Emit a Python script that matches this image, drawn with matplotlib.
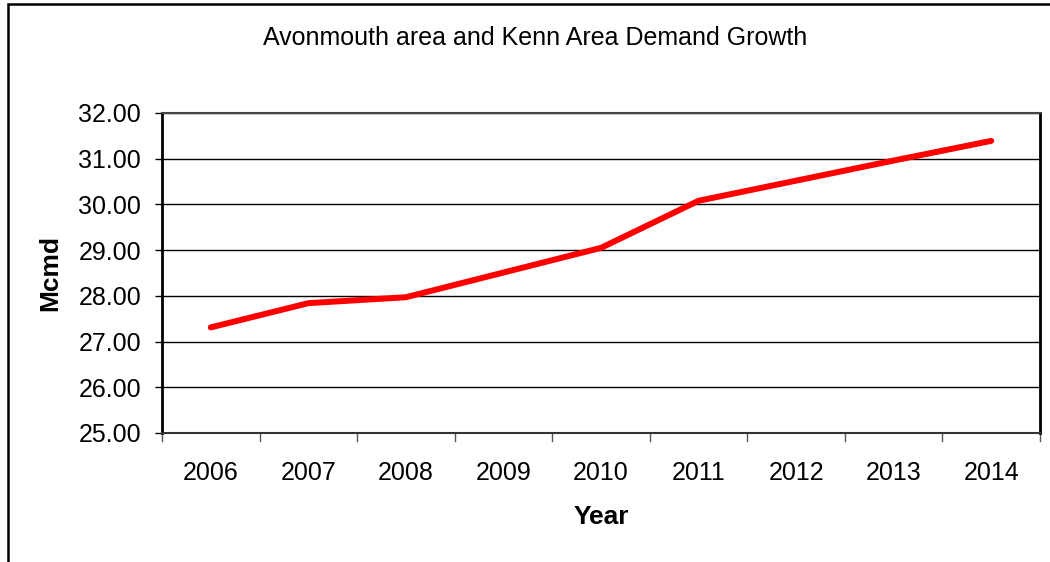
import matplotlib.pyplot as plt
from matplotlib.patches import Rectangle

plt.rcParams['font.family'] = ['Liberation Sans', 'DejaVu Sans']

years = ['2006', '2007', '2008', '2009', '2010', '2011', '2012', '2013', '2014']
demand = [27.31, 27.84, 27.97, 28.51, 29.05, 30.08, 30.52, 30.96, 31.39]
y_ticks = [25, 26, 27, 28, 29, 30, 31, 32]

fig = plt.figure(figsize=(10.5, 5.62), dpi=100)

# chart border (runs off the right and bottom edges)
fig.patches.append(Rectangle((8 / 1050, -0.1), 1.2, 1.1 - 4 / 562,
                             transform=fig.transFigure, fill=False,
                             edgecolor='black', linewidth=1.8))

ax = fig.add_axes([162 / 1050, 1 - 433 / 562, 878 / 1050, 320 / 562])

x = range(len(years))
ax.plot(x, demand, color='#ff0000', linewidth=4.3,
        solid_capstyle='round', solid_joinstyle='round', zorder=3)

ax.set_xlim(-0.5, len(years) - 0.5)
ax.set_ylim(25, 32)
ax.set_yticks(y_ticks)
ax.set_yticklabels([f'{v:.2f}' for v in y_ticks], fontsize=18)
ax.set_xticks(list(x))
ax.set_xticklabels(years, fontsize=18)
ax.tick_params(axis='x', length=0, pad=20)
ax.tick_params(axis='y', length=5, width=1, direction='out', pad=10)

# category boundary ticks on the x axis
for b in [i - 0.5 for i in range(len(years) + 1)]:
    ax.plot([b, b], [0, -0.025], transform=ax.get_xaxis_transform(),
            color='#555555', linewidth=1.0, clip_on=False)

ax.yaxis.grid(True, color='black', linewidth=1.0)
ax.set_axisbelow(True)

ax.spines['left'].set_linewidth(2.0)
ax.spines['left'].set_color('black')
ax.spines['right'].set_linewidth(2.0)
ax.spines['right'].set_color('black')
ax.spines['top'].set_linewidth(1.5)
ax.spines['top'].set_color('#444444')
ax.spines['bottom'].set_linewidth(1.5)
ax.spines['bottom'].set_color('#333333')

fig.text(535 / 1050, 1 - 38 / 562, 'Avonmouth area and Kenn Area Demand Growth',
         ha='center', va='center', fontsize=18)
fig.text(601 / 1050, 1 - 517 / 562, 'Year', ha='center', va='center',
         fontsize=19, fontweight='bold')
fig.text(50 / 1050, 1 - 273 / 562, 'Mcmd', ha='center', va='center',
         fontsize=19, fontweight='bold', rotation=90)

fig.savefig('out.png', dpi=100, facecolor='white')
